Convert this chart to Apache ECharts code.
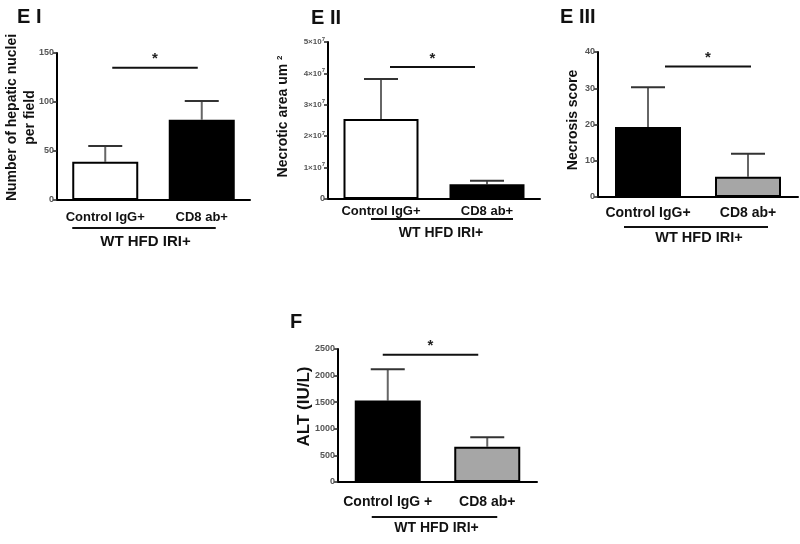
<!DOCTYPE html>
<html>
<head>
<meta charset="utf-8">
<script src="https://cdn.jsdelivr.net/npm/echarts@6/dist/echarts.min.js"></script>
<style>
  html, body { margin: 0; padding: 0; background: #fff; }
  #container { width: 800px; height: 544px; }
</style>
</head>
<body>
<div id="container"></div>
<script>
// categories
const groups = ['Control IgG+', 'CD8 ab+']
const groupsF = ['Control IgG +', 'CD8 ab+']

// E I - hepatic nuclei per field
const nucleiMean = [39, 82]
const nucleiTop = [55, 101]
// E II - necrotic area
const areaMean = [2.55e7, 0.47e7]
const areaTop = [3.82e7, 0.58e7]
// E III - necrosis score
const scoreMean = [19.3, 5.6]
const scoreTop = [30.3, 11.9]
// F - ALT
const altMean = [1530, 663]
const altTop = [2118, 840]

// height of the significance bar in each panel
const sigLevels = [135, 4.2e7, 36, 2390]
const yMax = [150, 5e7, 40, 2500]
const yStep = [50, 1e7, 10, 500]

const FONT = 'Liberation Sans, Arial, sans-serif'

let chart = echarts.init(document.getElementById('container'))

// panel layout (pixels), kept apart from data
const panels = [
    { grid: { left: 57, top: 53, width: 193, height: 147 }, cats: groups, mean: nucleiMean, top: nucleiTop,
      colors: ['#ffffff', '#000000'], barWidth: 66, labelMargin: 11, catSize: 13, groupSize: 15,
      name: 'Number of hepatic nuclei\nper field', nameGap: 18, nameSize: 14, nameShift: 18, nameLine: 18,
      sig: [7, -4], line: [-33, 14, 28], label: [42, -8] },
    { grid: { left: 328, top: 42, width: 212, height: 157 }, cats: groups, mean: areaMean, top: areaTop,
      colors: ['#ffffff', '#000000'], barWidth: 75, labelMargin: 6, catSize: 13, groupSize: 14,
      name: 'Necrotic area um {s|2}', nameGap: 37, nameSize: 14, nameShift: 8, nameLine: 15,
      sig: [9, -12], line: [-10, 26, 20], label: [34, 7] },
    { grid: { left: 598, top: 52, width: 200, height: 145 }, cats: groups, mean: scoreMean, top: scoreTop,
      colors: ['#000000', '#a6a6a6'], barWidth: 66, labelMargin: 9, catSize: 14, groupSize: 14.5,
      name: 'Necrosis score', nameGap: 17, nameSize: 14, nameShift: 9, nameLine: 15,
      sig: [17, 3], line: [-24, 20, 30], label: [41, 1] },
    { grid: { left: 338, top: 349, width: 199, height: 133 }, cats: groupsF, mean: altMean, top: altTop,
      colors: ['#000000', '#a6a6a6'], barWidth: 66, labelMargin: 13, catSize: 14, groupSize: 14,
      name: 'ALT (IU/L)', nameGap: 25, nameSize: 17, nameShift: 18, nameLine: 18,
      sig: [-5, -9], line: [-16, 10, 35], label: [46, -1] }
]

function errorItem(params, api) {
    let x = api.value(0)
    let lo = api.coord([x, api.value(1)])
    let hi = api.coord([x, api.value(2)])
    let half = 17
    return {
        type: 'group',
        children: [
            { type: 'line', shape: { x1: lo[0], y1: lo[1], x2: hi[0], y2: hi[1] }, style: { stroke: '#666', lineWidth: 2 } },
            { type: 'line', shape: { x1: hi[0] - half, y1: hi[1], x2: hi[0] + half, y2: hi[1] }, style: { stroke: '#333', lineWidth: 2 } }
        ]
    }
}

function annotate(p) {
    return function (params, api) {
        let a = api.coord([0, api.value(1)])
        let b = api.coord([1, api.value(1)])
        let base = api.coord([0, 0])
        let x1 = a[0] + p.sig[0], x2 = b[0] + p.sig[1]
        let gy = base[1] + p.line[2]
        let gx1 = a[0] + p.line[0], gx2 = b[0] + p.line[1]
        return {
            type: 'group',
            children: [
                { type: 'line', shape: { x1: x1, y1: a[1], x2: x2, y2: a[1] }, style: { stroke: '#111', lineWidth: 2 } },
                { type: 'text', style: { text: '*', x: (x1 + x2) / 2, y: a[1] - 1, align: 'center', verticalAlign: 'bottom',
                    font: 'bold 15px ' + FONT, fill: '#222' } },
                { type: 'line', shape: { x1: gx1, y1: gy, x2: gx2, y2: gy }, style: { stroke: '#111', lineWidth: 2 } },
                { type: 'text', style: { text: 'WT HFD IRI+', x: (a[0] + b[0]) / 2 + p.label[1], y: base[1] + p.label[0],
                    align: 'center', verticalAlign: 'middle', font: 'bold ' + p.groupSize + 'px ' + FONT, fill: '#111' } }
            ]
        }
    }
}

function tickLabel(i) {
    if (i === 1) {
        return {
            formatter: (v) => v === 0 ? '0' : '{n|' + (v / 1e7) + '×10}{s|7}',
            rich: {
                n: { fontSize: 8, fontWeight: 'bold', color: '#555', fontFamily: FONT },
                s: { fontSize: 6, fontWeight: 'bold', color: '#555', fontFamily: FONT, padding: [0, 0, 6, 0] }
            }
        }
    }
    return { formatter: (v) => String(v) }
}

let grids = [], xAxes = [], yAxes = [], series = []
panels.forEach((p, i) => {
    grids.push(Object.assign({ outerBoundsMode: 'none', containLabel: false }, p.grid))
    xAxes.push({
        type: 'category', gridIndex: i, data: p.cats,
        axisLine: { lineStyle: { color: '#000', width: 2 } },
        axisTick: { alignWithLabel: true, length: 5, lineStyle: { color: '#222', width: 1.5 } },
        axisLabel: { interval: 0, hideOverlap: false, color: '#111', fontSize: p.catSize, fontWeight: 'bold',
            fontFamily: FONT, margin: p.labelMargin }
    })
    yAxes.push({
        type: 'value', gridIndex: i, min: 0, max: yMax[i], interval: yStep[i],
        name: p.name, nameLocation: 'middle', nameGap: p.nameGap, nameRotate: 90, nameMoveOverlap: false,
        nameTextStyle: { color: '#111', fontSize: p.nameSize, fontWeight: 'bold', fontFamily: FONT, lineHeight: p.nameLine,
            padding: [0, 0, 0, p.nameShift],
            rich: { s: { fontSize: 8, fontWeight: 'bold', color: '#111', fontFamily: FONT, padding: [0, 0, 7, 0] } } },
        splitLine: { show: false },
        axisLine: { show: true, lineStyle: { color: '#000', width: 2 } },
        axisTick: { show: true, length: 4, lineStyle: { color: '#222', width: 1.5 } },
        axisLabel: Object.assign({ color: '#555', fontSize: 9, fontWeight: 'bold', fontFamily: FONT, margin: 3 }, tickLabel(i))
    })
    series.push({
        type: 'custom', xAxisIndex: i, yAxisIndex: i, z: 1,
        renderItem: errorItem, encode: { x: 0, y: [1, 2] },
        data: p.mean.map((m, k) => [k, m, p.top[k]])
    })
    series.push({
        type: 'bar', xAxisIndex: i, yAxisIndex: i, z: 2, barWidth: p.barWidth,
        data: p.mean.map((m, k) => ({ value: m, itemStyle: { color: p.colors[k] } })),
        itemStyle: { borderColor: '#000', borderWidth: 2 },
        emphasis: { disabled: true }
    })
    series.push({
        type: 'custom', xAxisIndex: i, yAxisIndex: i, z: 3, clip: false, silent: true,
        renderItem: annotate(p), encode: { x: 0, y: 1 },
        data: [[0, sigLevels[i]]]
    })
})

let options = {
    backgroundColor: '#fff',
    animation: false,
    title: [
        { text: 'E I', left: 12, top: 2 },
        { text: 'E II', left: 306, top: 3 },
        { text: 'E III', left: 555, top: 2 },
        { text: 'F', left: 285, top: 307 }
    ].map(t => Object.assign(t, { textStyle: { fontSize: 20, fontWeight: 'bold', color: '#111', fontFamily: FONT } })),
    grid: grids,
    xAxis: xAxes,
    yAxis: yAxes,
    series: series
}

chart.setOption(options)
window.addEventListener('resize', () => { chart.resize() })
</script>
</body>
</html>
